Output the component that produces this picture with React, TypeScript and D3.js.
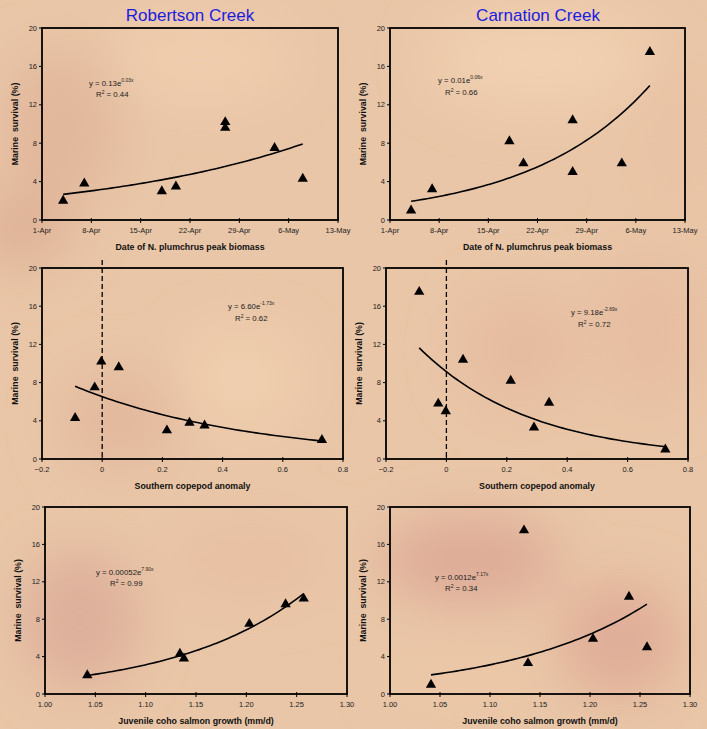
import React from "react";
import * as d3 from "d3";

// ---------- DATA ----------
const peakDatesRC = ["2000-04-04", "2000-04-07", "2000-04-18", "2000-04-20", "2000-04-27", "2000-04-27", "2000-05-04", "2000-05-08"];
const survivalDateRC = [2.0, 3.8, 3.0, 3.5, 10.2, 9.6, 7.5, 4.3];
const peakDatesCC = ["2000-04-04", "2000-04-07", "2000-04-18", "2000-04-20", "2000-04-27", "2000-04-27", "2000-05-04", "2000-05-08"];
const survivalDateCC = [1.0, 3.2, 8.2, 5.9, 10.4, 5.0, 5.9, 17.5];

const copepodRC = [-0.09, -0.025, -0.003, 0.055, 0.215, 0.29, 0.34, 0.73];
const survivalCopRC = [4.3, 7.5, 10.2, 9.6, 3.0, 3.8, 3.5, 2.0];
const copepodCC = [-0.09, -0.027, -0.002, 0.055, 0.213, 0.29, 0.34, 0.725];
const survivalCopCC = [17.5, 5.8, 5.0, 10.4, 8.2, 3.3, 5.9, 1.0];

const growthRC = [1.042, 1.134, 1.138, 1.203, 1.239, 1.257];
const survivalGrowthRC = [2.0, 4.3, 3.8, 7.5, 9.6, 10.2];
const growthCC = [1.041, 1.134, 1.138, 1.203, 1.239, 1.257];
const survivalGrowthCC = [1.0, 17.5, 3.3, 5.9, 10.4, 5.0];

const yTicks = [0, 4, 8, 12, 16, 20];
const dateDomain = ["2000-04-01", "2000-05-13"];
const copepodTicks = [-0.2, 0, 0.2, 0.4, 0.6, 0.8];
const growthTicks = [1.0, 1.05, 1.1, 1.15, 1.2, 1.25, 1.3];

const titles = ["Robertson Creek", "Carnation Creek"];
const xLabels = ["Date of N. plumchrus peak biomass", "Southern copepod anomaly", "Juvenile coho salmon growth (mm/d)"];
const yLabel = "Marine  survival (%)";
const eqCoefs = ["0.13e", "0.01e", "6.60e", "9.18e", "0.00052e", "0.0012e"];
const eqExps = ["0.03x", "0.06x", "-1.73x", "-2.69x", "7.90x", "7.17x"];
const r2Values = ["0.44", "0.66", "0.62", "0.72", "0.99", "0.34"];

// ---------- LAYOUT ----------
const W = 707, H = 729;
const FONT = "'Liberation Sans', Arial, sans-serif";
const boxes = [
  { l: 42, r: 338, t: 28, b: 220 },
  { l: 390, r: 685, t: 28, b: 220 },
  { l: 42, r: 343, t: 268, b: 459 },
  { l: 386, r: 688, t: 268, b: 459 },
  { l: 45, r: 347, t: 507, b: 694 },
  { l: 390, r: 690, t: 507, b: 694 },
];
const eqPos = [
  { x: 89, y: 86, rx: 96, ry: 97 },
  { x: 438, y: 83, rx: 445, ry: 95 },
  { x: 228, y: 309, rx: 235, ry: 321 },
  { x: 571, y: 315, rx: 578, ry: 327 },
  { x: 96, y: 575, rx: 110, ry: 586 },
  { x: 435, y: 580, rx: 445, ry: 591 },
];

const parse = d3.utcParse("%Y-%m-%d");
const dayStart = parse(dateDomain[0]) as Date;
const dayNum = (s: string) => ((parse(s) as Date).getTime() - dayStart.getTime()) / 864e5;

function expFit(xs: number[], ys: number[]) {
  const ly = ys.map((v) => Math.log(v));
  const mx = d3.mean(xs) as number;
  const my = d3.mean(ly) as number;
  let sxy = 0, sxx = 0;
  xs.forEach((x, i) => {
    sxy += (x - mx) * (ly[i] - my);
    sxx += (x - mx) * (x - mx);
  });
  const b = sxy / sxx;
  const a = Math.exp(my - b * mx);
  return (x: number) => a * Math.exp(b * x);
}

type PanelDef = {
  xs: number[];
  ys: number[];
  domain: [number, number];
  ticks: number[];
  fmt: (v: number) => string;
  dashed: boolean;
  xLabel: string;
};

const dateTickVals = d3.range(0, 43, 7);
const dateFmt = (v: number) => d3.utcFormat("%-d-%b")(d3.utcDay.offset(dayStart, v));
const endDay = dayNum(dateDomain[1]);
const copFmt = (v: number) => (v === 0 ? "0" : d3.format(".1f")(v));

const panels: PanelDef[] = [
  { xs: peakDatesRC.map(dayNum), ys: survivalDateRC, domain: [0, endDay], ticks: dateTickVals, fmt: dateFmt, dashed: false, xLabel: xLabels[0] },
  { xs: peakDatesCC.map(dayNum), ys: survivalDateCC, domain: [0, endDay], ticks: dateTickVals, fmt: dateFmt, dashed: false, xLabel: xLabels[0] },
  { xs: copepodRC, ys: survivalCopRC, domain: [-0.2, 0.8], ticks: copepodTicks, fmt: copFmt, dashed: true, xLabel: xLabels[1] },
  { xs: copepodCC, ys: survivalCopCC, domain: [-0.2, 0.8], ticks: copepodTicks, fmt: copFmt, dashed: true, xLabel: xLabels[1] },
  { xs: growthRC, ys: survivalGrowthRC, domain: [1.0, 1.3], ticks: growthTicks, fmt: d3.format(".2f"), dashed: false, xLabel: xLabels[2] },
  { xs: growthCC, ys: survivalGrowthCC, domain: [1.0, 1.3], ticks: growthTicks, fmt: d3.format(".2f"), dashed: false, xLabel: xLabels[2] },
];

const triPath = d3.symbol(d3.symbolTriangle, 46)() as string;

function Panel({ p, i }: { p: PanelDef; i: number }) {
  const bx = boxes[i];
  const x = d3.scaleLinear().domain(p.domain).range([bx.l, bx.r]);
  const y = d3.scaleLinear().domain([0, 20]).range([bx.b, bx.t]);
  const fit = expFit(p.xs, p.ys);
  const [x0, x1] = d3.extent(p.xs) as [number, number];
  const curve = d3.range(0, 61).map((k) => x0 + ((x1 - x0) * k) / 60);
  const line = d3.line<number>().x((v) => x(v)).y((v) => y(fit(v)));
  const ep = eqPos[i];
  const midY = (bx.t + bx.b) / 2;
  return (
    <g>
      <rect x={bx.l} y={bx.t} width={bx.r - bx.l} height={bx.b - bx.t} fill="none" stroke="#000" strokeWidth={1.8} />
      {yTicks.map((t) => (
        <g key={"y" + t}>
          <line x1={bx.l - 3} x2={bx.l} y1={y(t)} y2={y(t)} stroke="#000" strokeWidth={1} />
          <text x={bx.l - 5} y={y(t) + 2.6} textAnchor="end" fontSize={7.5} fill="#222" fontFamily={FONT}>{t}</text>
        </g>
      ))}
      {p.ticks.map((t) => (
        <g key={"x" + t}>
          <line x1={x(t)} x2={x(t)} y1={bx.b - 2} y2={bx.b + 3} stroke="#000" strokeWidth={1} />
          <text x={x(t)} y={bx.b + 13} textAnchor="middle" fontSize={7.5} fill="#222" fontFamily={FONT}>{p.fmt(t)}</text>
        </g>
      ))}
      {p.dashed && (
        <line x1={x(0)} x2={x(0)} y1={y(20) - 8} y2={y(0)} stroke="#000" strokeWidth={1.3} strokeDasharray="5,3" />
      )}
      <path d={line(curve) as string} fill="none" stroke="#000" strokeWidth={1.6} />
      {p.xs.map((xv, k) => (
        <path key={k} d={triPath} transform={`translate(${x(xv)},${y(p.ys[k])})`} fill="#000" />
      ))}
      <text x={ep.x} y={ep.y} fontSize={7.8} fill="#222" fontFamily={FONT}>
        {"y = " + eqCoefs[i]}
        <tspan dy={-3.8} fontSize={5}>{eqExps[i]}</tspan>
      </text>
      <text x={ep.rx} y={ep.ry} fontSize={7.8} fill="#222" fontFamily={FONT}>
        R<tspan dy={-3.2} fontSize={5}>2</tspan>
        <tspan dy={3.2}>{" = " + r2Values[i]}</tspan>
      </text>
      <text
        transform={`translate(${bx.l - 24},${midY}) rotate(-90)`}
        textAnchor="middle"
        fontSize={8.8}
        fontWeight="bold"
        fill="#111"
        fontFamily={FONT}
        style={{ whiteSpace: "pre" }}
      >
        {yLabel}
      </text>
      <text x={(bx.l + bx.r) / 2} y={bx.b + 29.5} textAnchor="middle" fontSize={8.8} fontWeight="bold" fill="#111" fontFamily={FONT}>
        {p.xLabel}
      </text>
    </g>
  );
}

const blobs = [
  { cx: 60, cy: 130, rx: 60, ry: 80, c: "#e2b89c" },
  { cx: 20, cy: 230, rx: 50, ry: 40, c: "#dfb398" },
  { cx: 200, cy: 60, rx: 90, ry: 40, c: "#efcdad" },
  { cx: 540, cy: 60, rx: 110, ry: 50, c: "#f0d0b0" },
  { cx: 520, cy: 350, rx: 60, ry: 60, c: "#e6bca0" },
  { cx: 650, cy: 330, rx: 60, ry: 80, c: "#e7bea2" },
  { cx: 120, cy: 420, rx: 60, ry: 50, c: "#e3b99e" },
  { cx: 240, cy: 380, rx: 60, ry: 50, c: "#efcfaf" },
  { cx: 80, cy: 620, rx: 60, ry: 70, c: "#deb09b" },
  { cx: 250, cy: 560, rx: 80, ry: 40, c: "#e8c0a4" },
  { cx: 470, cy: 560, rx: 90, ry: 45, c: "#deac98" },
  { cx: 620, cy: 640, rx: 60, ry: 60, c: "#e0ae98" },
  { cx: 460, cy: 680, rx: 70, ry: 25, c: "#ecc8a8" },
  { cx: 680, cy: 140, rx: 40, ry: 70, c: "#e8c2a4" },
];

export default function App() {
  return (
    <svg width={W} height={H} style={{ position: "fixed", left: 0, top: 0, display: "block" }}>
      <defs>
        <filter id="blur" x="-50%" y="-50%" width="200%" height="200%">
          <feGaussianBlur stdDeviation={25} />
        </filter>
      </defs>
      <rect width={W} height={H} fill="#e9c6a7" />
      <g filter="url(#blur)">
        {blobs.map((b, k) => (
          <ellipse key={k} cx={b.cx} cy={b.cy} rx={b.rx} ry={b.ry} fill={b.c} />
        ))}
      </g>
      <text x={190} y={21} textAnchor="middle" fontSize={17} fill="#1c1ce0" fontFamily={FONT}>{titles[0]}</text>
      <text x={538} y={21} textAnchor="middle" fontSize={17} fill="#1c1ce0" fontFamily={FONT}>{titles[1]}</text>
      {panels.map((p, i) => (
        <Panel key={i} p={p} i={i} />
      ))}
    </svg>
  );
}
